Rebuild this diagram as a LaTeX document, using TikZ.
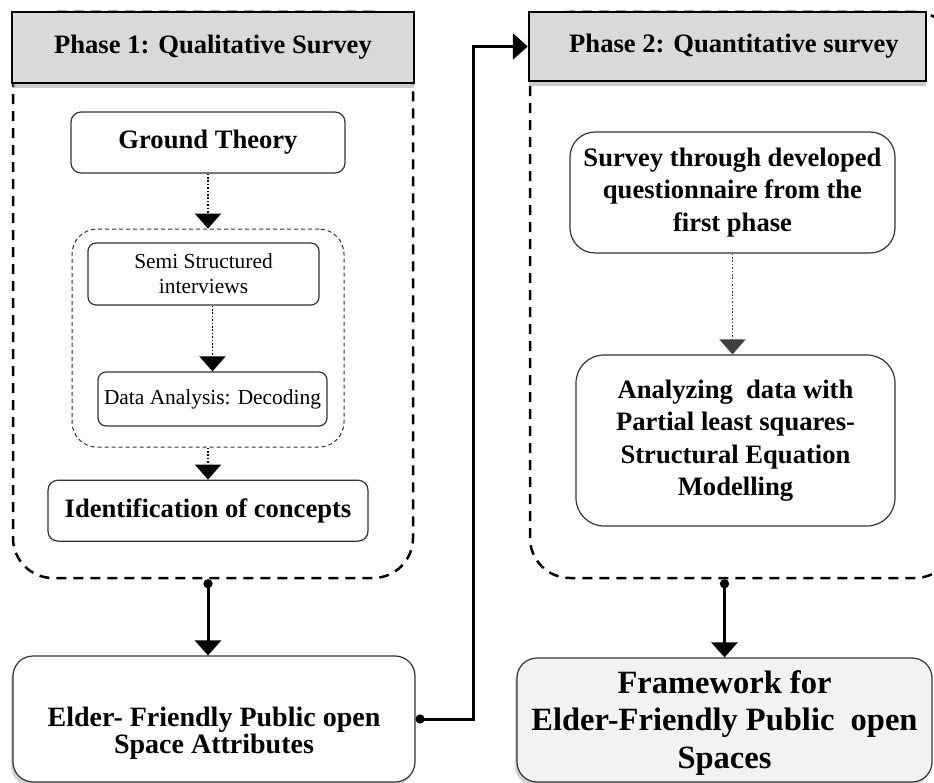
\documentclass[tikz,border=0pt]{standalone}
\usepackage{fontspec}
\setmainfont{Liberation Serif}
\usepackage{tikz}
\usetikzlibrary{arrows.meta,positioning,shadows,calc}
\tikzset{
  box/.style={draw=black!80, line width=1.2pt, rounded corners=10pt, align=center,
              inner sep=2pt, fill=white},
  bold/.style={font=\fontsize{26.6}{32.5}\selectfont\bfseries},
  plain/.style={font=\fontsize{21.4}{25}\selectfont},
  phase/.style={draw, line width=2.5pt, fill=gray!30, bold, inner sep=0pt,
                drop shadow={shadow xshift=0pt, shadow yshift=-5pt, opacity=.4}},
  lane/.style={draw, line width=2.5pt, dash pattern=on 10pt off 7pt,
               rounded corners=40pt, inner sep=0pt},
  group/.style={draw=black!80, line width=1pt, dash pattern=on 4pt off 3pt,
                rounded corners=25pt, inner sep=0pt},
  result/.style={box, rounded corners=20pt,
                 drop shadow={shadow xshift=-2pt, shadow yshift=-4pt, opacity=.35}},
  flow/.style={{Circle[length=9pt]}-{Triangle[length=15pt,width=26pt]}, line width=3pt},
  dflow/.style={-{Triangle[length=15pt,width=26pt]}, line width=1.6pt,
                dash pattern=on 1.6pt off 1.8pt},
}
\begin{document}
\begin{tikzpicture}[x=1pt, y=-1pt]
  \clip (0,0) rectangle (934,783);
  % dashed lanes behind the phase headers
  \node[lane, minimum width=400pt, minimum height=566pt] (lane1) at (213,295) {};
  \node[lane, minimum width=425pt, minimum height=566pt] (lane2) at (742.5,295) {};
  \node[phase, minimum width=402pt, minimum height=71pt] (ph1) at (213,47.5)
    {Phase 1: Qualitative Survey};
  \node[phase, minimum width=397pt, minimum height=69pt] (ph2) at (727.5,46.5)
    {\hspace*{13pt}Phase 2: Quantitative survey};
  % phase 1
  \node[box, bold, minimum width=274pt, minimum height=61pt] (ground) at (208,142.5)
    {Ground Theory};
  \node[group, minimum width=272pt, minimum height=218pt, below=55pt of ground] (coding) {};
  \node[box, plain, rounded corners=8pt, minimum width=231pt, minimum height=62pt] (semi)
    at (203.5,274) {Semi Structured\\interviews};
  \node[box, plain, rounded corners=8pt, minimum width=229pt, minimum height=54pt] (decode)
    at (212.5,399) {Data Analysis: Decoding};
  \node[box, bold, minimum width=320pt, minimum height=61pt, below=32pt of coding] (ident)
    {Identification of concepts};
  % phase 2
  \node[box, bold, rounded corners=25pt, minimum width=325pt, minimum height=121pt] (survey)
    at (732.5,192.5) {Survey through developed\\questionnaire from the\\first phase};
  \node[box, bold, rounded corners=28pt, minimum width=319pt, minimum height=171pt] (pls)
    at (735.5,440.5) {Analyzing\ \ data with\\Partial least squares-\\Structural Equation\\Modelling};
  % outcomes
  \node[result, font=\fontsize{28}{24.4}\selectfont\bfseries, minimum width=402pt,
        minimum height=126pt] (elder) at (214,719)
    {\rule{0pt}{48pt}Elder- Friendly Public open\\Space Attributes};
  \node[result, fill=gray!10, font=\fontsize{32.5}{37.5}\selectfont\bfseries,
        minimum width=415pt, minimum height=124pt] (frame) at (724.5,720)
    {\rule{0pt}{28pt}Framework for\\Elder-Friendly Public\ \ open\\Spaces};
  % connectors
  \draw[dflow] (ground.south) -- (ground.south |- coding.north);
  \draw[dflow] (decode.north |- semi.south) -- (decode.north);
  \draw[dflow] (coding.south) -- (coding.south |- ident.north);
  \draw[dflow, black!75] (survey.south) -- (survey.south |- pls.north);
  \draw[flow] (ground.south |- lane1.south) -- (ground.south |- elder.north);
  \draw[flow] (frame.north |- lane2.south) -- (frame.north);
  \draw[flow] (elder.east) -- ++(58,0) |- (ph2.west);
\end{tikzpicture}
\end{document}
